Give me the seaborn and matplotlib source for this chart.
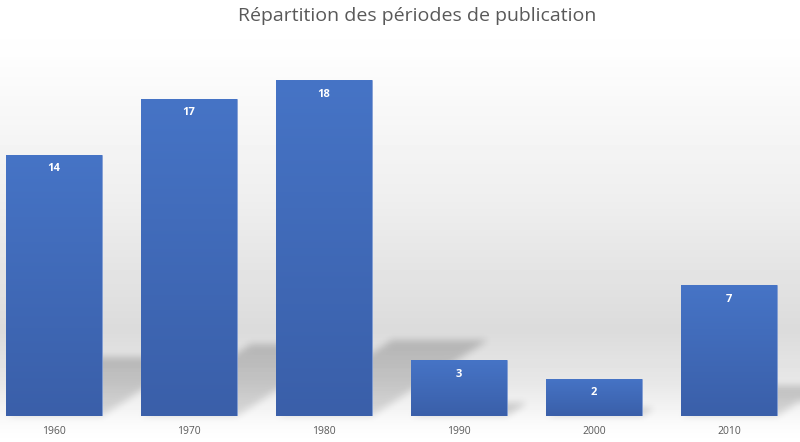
import numpy as np
import pandas as pd
import matplotlib
matplotlib.use("Agg")
import matplotlib.pyplot as plt
from matplotlib.colors import LinearSegmentedColormap
import seaborn as sns

periods = ["1960", "1970", "1980", "1990", "2000", "2010"]
counts = [14, 17, 18, 3, 2, 7]
title = "Répartition des périodes de publication"

df = pd.DataFrame({"periode": periods, "n": counts})

sns.set_theme(style="white")
plt.rcParams["font.family"] = ["Open Sans", "DejaVu Sans"]

W, H = 800, 442
fig = plt.figure(figsize=(8.0, 4.42), dpi=100)

# background axes (pixel coordinates, origin bottom-left)
bg = fig.add_axes([0, 0, 1, 1], zorder=-10)
bg.set_axis_off()
bg.set_xlim(0, W)
bg.set_ylim(0, H)
stops_top = np.array([0, 50, 200, 330, 385, 425, 442])
stops_v = np.array([1.0, 0.995, 0.935, 0.86, 0.91, 0.985, 1.0])
ydisp = np.arange(H) + 0.5
col = np.interp(H - ydisp, stops_top, stops_v)
img = np.repeat(col[:, None], 10, axis=1)
bg.imshow(img, cmap="gray", vmin=0, vmax=1, aspect="auto", origin="lower",
          extent=[0, W, 0, H], zorder=0)

ax_bottom = (H - 416) / H
ax_top = (H - 40) / H
ax = fig.add_axes([0, ax_bottom, 1, ax_top - ax_bottom])
ax.set_facecolor("none")

width = 96 / 135
sns.barplot(data=df, x="periode", y="n", ax=ax, width=width, color="#4472c4",
            saturation=1, edgecolor="#7f9bd3", linewidth=0.5, zorder=3)

xlim = (-0.4, -0.4 + W / 135)
px_per_unit = (416 - 80) / 18
ymax = (416 - 40) / px_per_unit
ax.set_xlim(*xlim)
ax.set_ylim(0, ymax)

# soft perspective shadows derived from values, rendered on the background
X, Y = np.meshgrid(np.arange(W) + 0.5, np.arange(H) + 0.5)
mask = np.zeros((H, W))
for i, v in enumerate(counts):
    sh = 0.226 * v
    dx = 0.345 * v * px_per_unit / 135
    (xl, yb), (xr, _), (xt, yt) = ax.transData.transform(
        [(i - width / 2, 0), (i + width / 2, 0), (i - width / 2 + dx, sh)])
    slope = (xt - xl) / (yt - yb)
    off = (Y - yb) * slope
    m = (Y >= yb) & (Y <= yt) & (X >= xl + off) & (X <= xr + off)
    fade = 0.65 + 0.35 * np.clip((Y - yb) / max(yt - yb, 1), 0, 1)
    mask = np.maximum(mask, m * fade)


def box_blur(a, r):
    out = a.copy()
    for axis in (0, 1):
        pad = [(0, 0), (0, 0)]
        pad[axis] = (r + 1, r)
        p = np.pad(out, pad, mode="edge")
        c = np.cumsum(p, axis=axis)
        if axis == 0:
            out = (c[2 * r + 1:, :] - c[:-2 * r - 1, :]) / (2 * r + 1)
        else:
            out = (c[:, 2 * r + 1:] - c[:, :-2 * r - 1]) / (2 * r + 1)
    return out


for _ in range(3):
    mask = box_blur(mask, 3)
shadow = np.zeros((H, W, 4))
shadow[..., 3] = 0.19 * mask
bg.imshow(shadow, origin="lower", extent=[0, W, 0, H], aspect="auto", zorder=1)
bg.set_xlim(0, W)
bg.set_ylim(0, H)

# gradient fill on bars
cmap = LinearSegmentedColormap.from_list("bar", ["#3a5fa9", "#4674c6"])
grad = np.linspace(0, 1, 256)[:, None]
for p in list(ax.patches):
    bx, by = p.get_x(), p.get_y()
    bw, bh = p.get_width(), p.get_height()
    im = ax.imshow(grad, cmap=cmap, aspect="auto", origin="lower",
                   extent=[bx, bx + bw, by, by + bh], zorder=3.5)
    im.set_clip_path(p)

ax.set_xlim(*xlim)
ax.set_ylim(0, ymax)

for i, v in enumerate(counts):
    ax.annotate(str(v), xy=(i, v), xytext=(0, -10.3), textcoords="offset points",
                ha="center", va="center", color="white", fontsize=8,
                fontweight="bold", zorder=5)

for s in ax.spines.values():
    s.set_visible(False)
ax.set_yticks([])
ax.set_xlabel("")
ax.set_ylabel("")
ax.tick_params(axis="x", length=0, pad=7, labelsize=7.5, labelcolor="#595959")

fig.text(417 / W, 1 - 16 / H, title, ha="center", va="center", fontsize=14,
         color="#595959")

fig.savefig("out.png", dpi=100)
